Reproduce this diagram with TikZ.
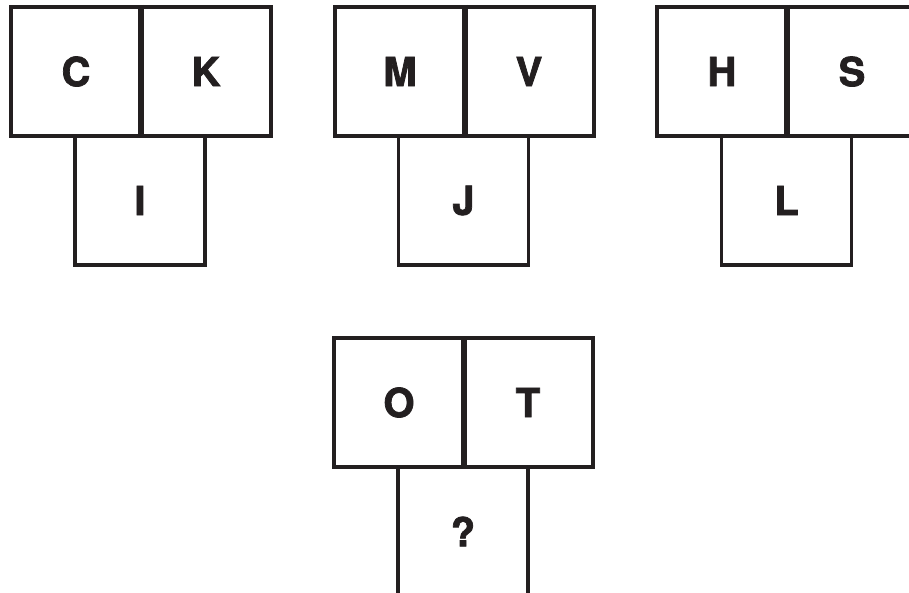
\documentclass[tikz,border=0pt]{standalone}
\usepackage{fontspec}
\setmainfont{TeX Gyre Heros}
\newfontfamily\heavyfont{TeX Gyre Heros Bold}[FakeBold=1.8]
\definecolor{ink}{HTML}{231F20}
\tikzset{
  cell/.style={draw=ink, fill=white, line width=2.6pt, minimum width=97.5pt, minimum height=96.75pt,
    inner sep=0pt, outer sep=0pt, text=ink, font=\heavyfont\fontsize{30}{30}\selectfont},
  divider/.style={draw=ink, line width=3.8pt}
}
\begin{document}
\begin{tikzpicture}[x=0.75pt,y=-0.75pt]
\useasboundingbox (0,0) rectangle (909,592);
\clip (0,0) rectangle (909,592);
% figure 1
\node[cell] (I) at (140,200.5) {I};
\node[cell] (C) at (76,71.5) {C};
\node[cell] (K) at (206,71.5) {K};
\draw[divider] ([yshift=1.5pt]C.north east) -- (C.south east);
% figure 2
\node[cell] (J) at (463.5,200.5) {J};
\node[cell] (M) at (400,71.5) {M};
\node[cell] (V) at (529,71.5) {V};
\draw[divider] ([yshift=1.5pt]M.north east) -- (M.south east);
% figure 3
\node[cell] (L) at (786.5,200.5) {L};
\node[cell] (H) at (722,71.5) {H};
\node[cell] (S) at (852,71.5) {S};
\draw[divider] ([yshift=1.5pt]H.north east) -- (H.south east);
% figure 4
\node[cell] (Q) at (463,531.5) {?};
\node[cell] (O) at (399,402.5) {O};
\node[cell] (T) at (528,402.5) {T};
\draw[divider] ([yshift=1.5pt]O.north east) -- (O.south east);
\end{tikzpicture}
\end{document}
